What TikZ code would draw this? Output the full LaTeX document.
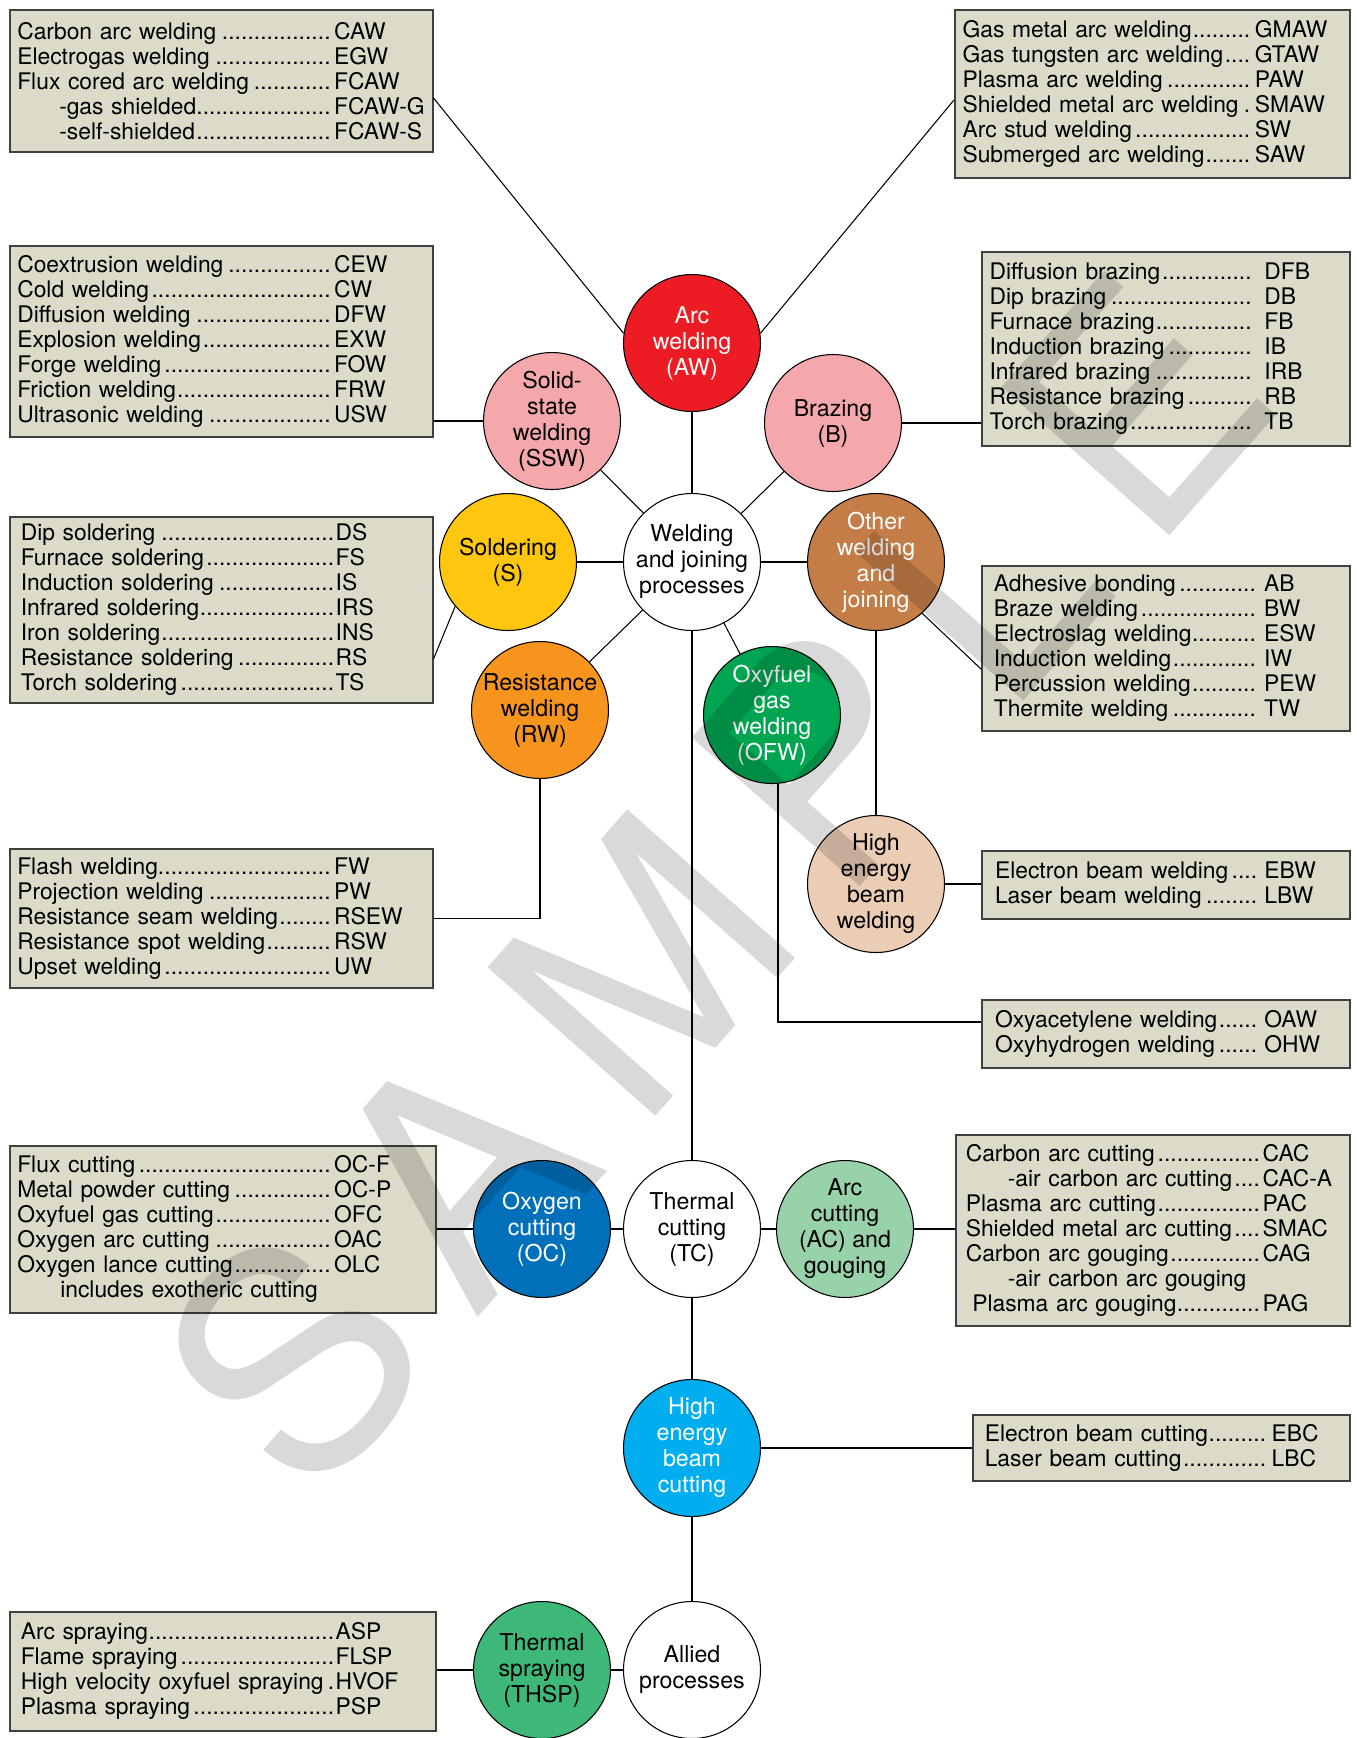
\documentclass[tikz,border=0pt]{standalone}
\usepackage{fontspec}
\setmainfont{TeX Gyre Heros}
\usetikzlibrary{positioning,calc}

\definecolor{boxfill}{HTML}{DCDAC9}
\definecolor{arcred}{HTML}{ED1C24}
\definecolor{pinkc}{HTML}{F5A8AB}
\definecolor{solyellow}{HTML}{FEC60E}
\definecolor{othbrown}{HTML}{C47D47}
\definecolor{rworange}{HTML}{F7941D}
\definecolor{ofwgreen}{HTML}{00A551}
\definecolor{hebpeach}{HTML}{EBCCB4}
\definecolor{ocblue}{HTML}{0070BB}
\definecolor{acgreen}{HTML}{98D2AB}
\definecolor{hebccyan}{HTML}{00AEEF}
\definecolor{thspgreen}{HTML}{3DB878}

\newlength\colw
\newlength\gapw
\newcommand\dotlead{\leaders\hbox to 0.28em{\hss.\hss}\hfill}
\newcommand\itm[3][0pt]{\makebox[\colw][l]{\hspace*{#1}#2\dotlead\hspace*{\gapw}}#3}
\newcommand\wmgap{\hspace{0.15em}}

\tikzset{
  proc/.style={circle,draw=black,line width=0.6pt,minimum size=2.74cm,inner sep=0pt,
    align=center,font=\fontsize{13.2}{14.8}\selectfont},
  listbox/.style 2 args={draw=black!75,line width=0.9pt,fill=boxfill,anchor=north west,
    align=left,inner ysep=0pt,font=\fontsize{13}{14.2}\selectfont,
    execute at begin node={\setlength\colw{#1}\setlength\gapw{#2}}},
  conn/.style={line width=0.6pt},
}

\begin{document}
\begin{tikzpicture}[x=0.02cm,y=-0.02cm]
    \path[use as bounding box,fill=white] (0,0) rectangle (1356,1738);

    % process circles
    \node[proc] (wjp) at (692,562) {Welding\\and joining\\processes};
    \node[proc,fill=arcred,text=white] (arc) at (692,343) {Arc\\welding\\(AW)};
    \node[proc,fill=pinkc] (ssw) at (552,421) {Solid-\\state\\welding\\(SSW)};
    \node[proc,fill=pinkc] (brz) at (833,423) {Brazing\\(B)};
    \node[proc,fill=solyellow] (sol) at (508,562) {Soldering\\(S)};
    \node[proc,fill=othbrown,text=white] (oth) at (876,562) {Other\\welding\\and\\joining};
    \node[proc,fill=rworange] (rw) at (540,710) {Resistance\\welding\\(RW)};
    \node[proc,fill=ofwgreen,text=white] (ofw) at (772,715) {Oxyfuel\\gas\\welding\\(OFW)};
    \node[proc,fill=hebpeach] (hebw) at (876,884) {High\\energy\\beam\\welding};
    \node[proc] (tc) at (692,1229) {Thermal\\cutting\\(TC)};
    \node[proc,fill=ocblue,text=white] (oc) at (542,1229) {Oxygen\\cutting\\(OC)};
    \node[proc,fill=acgreen] (ac) at (845,1229) {Arc\\cutting\\(AC) and\\gouging};
    \node[proc,fill=hebccyan,text=white] (hebc) at (692,1448) {High\\energy\\beam\\cutting};
    \node[proc] (allied) at (692,1670) {Allied\\processes};
    \node[proc,fill=thspgreen] (thsp) at (542,1670) {Thermal\\spraying\\(THSP)};

    % process lists
    \node[listbox={6.34cm}{0pt},text width=8.16cm,inner xsep=0.15cm,minimum height=2.84cm] (awl) at (9,9) {%
      \itm{Carbon arc welding}{CAW}\\
      \itm{Electrogas welding}{EGW}\\
      \itm{Flux cored arc welding}{FCAW}\\
      \itm[0.84cm]{-gas shielded}{FCAW-G}\\
      \itm[0.84cm]{-self-shielded}{FCAW-S}};
    \node[listbox={5.85cm}{0pt},text width=7.59cm,inner xsep=0.155cm,minimum height=3.36cm] (awr) at (954,9) {%
      \itm{Gas metal arc welding}{GMAW}\\
      \itm{Gas tungsten arc welding}{GTAW}\\
      \itm{Plasma arc welding}{PAW}\\
      \itm{Shielded metal arc welding}{SMAW}\\
      \itm{Arc stud welding}{SW}\\
      \itm{Submerged arc welding}{SAW}};
    \node[listbox={6.34cm}{0pt},text width=8.16cm,inner xsep=0.15cm,minimum height=3.82cm] (ssl) at (9,245) {%
      \itm{Coextrusion welding}{CEW}\\
      \itm{Cold welding}{CW}\\
      \itm{Diffusion welding}{DFW}\\
      \itm{Explosion welding}{EXW}\\
      \itm{Forge welding}{FOW}\\
      \itm{Friction welding}{FRW}\\
      \itm{Ultrasonic welding}{USW}};
    \node[listbox={5.5cm}{4pt},text width=7.05cm,inner xsep=0.155cm,minimum height=3.88cm] (brl) at (981,251) {%
      \itm{Diffusion brazing}{DFB}\\
      \itm{Dip brazing}{DB}\\
      \itm{Furnace brazing}{FB}\\
      \itm{Induction brazing}{IB}\\
      \itm{Infrared brazing}{IRB}\\
      \itm{Resistance brazing}{RB}\\
      \itm{Torch brazing}{TB}};
    \node[listbox={6.3cm}{0pt},text width=8.02cm,inner xsep=0.22cm,minimum height=3.72cm] (soll) at (9,516) {%
      \itm{Dip soldering}{DS}\\
      \itm{Furnace soldering}{FS}\\
      \itm{Induction soldering}{IS}\\
      \itm{Infrared soldering}{IRS}\\
      \itm{Iron soldering}{INS}\\
      \itm{Resistance soldering}{RS}\\
      \itm{Torch soldering}{TS}};
    \node[listbox={5.41cm}{4pt},text width=6.88cm,inner xsep=0.24cm,minimum height=3.3cm] (othl) at (981,565) {%
      \itm{Adhesive bonding}{AB}\\
      \itm{Braze welding}{BW}\\
      \itm{Electroslag welding}{ESW}\\
      \itm{Induction welding}{IW}\\
      \itm{Percussion welding}{PEW}\\
      \itm{Thermite welding}{TW}};
    \node[listbox={6.34cm}{0pt},text width=8.16cm,inner xsep=0.15cm,minimum height=2.78cm] (rwl) at (9,848) {%
      \itm{Flash welding}{FW}\\
      \itm{Projection welding}{PW}\\
      \itm{Resistance seam welding}{RSEW}\\
      \itm{Resistance spot welding}{RSW}\\
      \itm{Upset welding}{UW}};
    \node[listbox={5.39cm}{3pt},text width=6.83cm,inner xsep=0.265cm,minimum height=1.36cm] (hbl) at (981,850) {%
      \itm{Electron beam welding}{EBW}\\
      \itm{Laser beam welding}{LBW}};
    \node[listbox={5.39cm}{3pt},text width=6.83cm,inner xsep=0.265cm,minimum height=1.36cm] (ofl) at (981,999) {%
      \itm{Oxyacetylene welding}{OAW}\\
      \itm{Oxyhydrogen welding}{OHW}};
    \node[listbox={6.34cm}{0pt},text width=8.22cm,inner xsep=0.15cm,minimum height=3.34cm] (ocl) at (9,1145) {%
      \itm{Flux cutting}{OC-F}\\
      \itm{Metal powder cutting}{OC-P}\\
      \itm{Oxyfuel gas cutting}{OFC}\\
      \itm{Oxygen arc cutting}{OAC}\\
      \itm{Oxygen lance cutting}{OLC}\\
      \hspace*{0.86cm}includes exotheric cutting};
    \node[listbox={5.94cm}{0pt},text width=7.48cm,inner xsep=0.2cm,minimum height=3.82cm] (acl) at (955,1134) {%
      \itm{Carbon arc cutting}{CAC}\\
      \itm[0.84cm]{-air carbon arc cutting}{CAC-A}\\
      \itm{Plasma arc cutting}{PAC}\\
      \itm{Shielded metal arc cutting}{SMAC}\\
      \itm{Carbon arc gouging}{CAG}\\
      \hspace*{0.84cm}-air carbon arc gouging\\
      \itm[0.13cm]{Plasma arc gouging}{PAG}};
    \node[listbox={5.74cm}{2pt},text width=7.06cm,inner xsep=0.24cm,minimum height=1.32cm] (hcl) at (972,1414) {%
      \itm{Electron beam cutting}{EBC}\\
      \itm{Laser beam cutting}{LBC}};
    \node[listbox={6.3cm}{0pt},text width=8.08cm,inner xsep=0.22cm,minimum height=2.38cm] (tsl) at (9,1611) {%
      \itm{Arc spraying}{ASP}\\
      \itm{Flame spraying}{FLSP}\\
      \itm{High velocity oxyfuel spraying}{HVOF}\\
      \itm{Plasma spraying}{PSP}};

    % main spine
    \draw[conn] (arc) -- (wjp);
    \draw[conn] (wjp) -- (tc);
    \draw[conn] (tc) -- (hebc);
    \draw[conn] (hebc) -- (allied);

    % spokes from the center
    \foreach \n in {ssw,brz,sol,oth,rw,ofw}{
        \draw[conn] (wjp) -- (\n);
    }
    \draw[conn] (oth) -- (hebw);
    \draw[conn] (oc) -- (tc);
    \draw[conn] (tc) -- (ac);
    \draw[conn] (thsp) -- (allied);

    % circles to lists
    \draw[conn] ($(awl.north east)+(0,89)$) -- (arc.172);
    \draw[conn] ($(awr.north west)+(0,91)$) -- (arc.8);
    \draw[conn] (ssl.east |- ssw) -- (ssw);
    \draw[conn] (brz) -- (brl.west |- brz);
    \draw[conn] ($(soll.north east)+(0,143)$) -- (sol.220);
    \draw[conn] (oth.312) -- ($(othl.north west)+(0,104)$);
    \draw[conn] (rwl.east) -| (rw);
    \draw[conn] (hebw) -- (hbl.west |- hebw);
    \draw[conn] (ofw.-85) |- ($(ofl.north west)+(0,23)$);
    \draw[conn] (ocl.east |- oc) -- (oc);
    \draw[conn] (ac) -- (acl.west |- ac);
    \draw[conn] (hebc) -- (hcl.west |- hebc);
    \draw[conn] (tsl.east |- thsp) -- (thsp);

    % watermark
    \node[rotate=48.5,text=black,text opacity=0.15,font=\fontsize{175}{175}\selectfont] (wm) at (714,882)
      {S\wmgap A\wmgap M\wmgap P\wmgap L\wmgap E};
\end{tikzpicture}
\end{document}
